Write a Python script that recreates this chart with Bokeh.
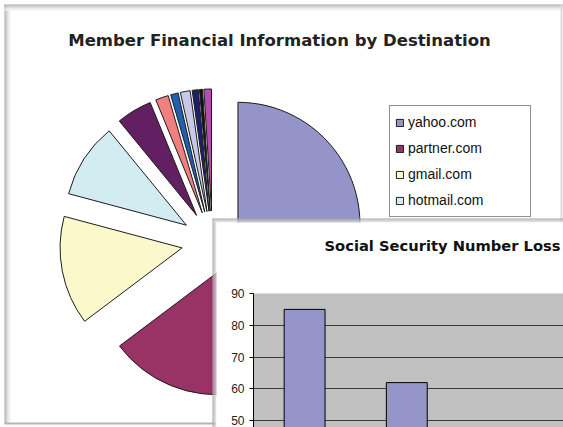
import math
from bokeh.plotting import figure
from bokeh.models import Range1d, Legend, LegendItem, ColumnDataSource, Label, SingleIntervalTicker
from bokeh.embed import file_html
from bokeh.resources import INLINE

# ---------------- data ----------------
pie_title = "Member Financial Information by Destination"
pie_domains = ["yahoo.com", "partner.com", "gmail.com", "hotmail.com",
               "(hidden 5)", "(hidden 6)", "(hidden 7)", "(hidden 8)",
               "(hidden 9)", "(hidden 10)", "(hidden 11)"]
pie_shares = [30.6, 34.0, 14.4, 9.9, 4.7, 1.7, 1.0, 1.3, 0.8, 0.4, 1.0]
pie_colors = ["#9494C8", "#993366", "#FBF9CC", "#D2ECF2", "#621F62", "#F08080",
              "#2060B0", "#C8C8E8", "#1E1E70", "#111111", "#B050A8"]
legend_visible = 4

bar_title = "Social Security Number Loss"
ssn_values = [85, 62]
y_ticks_step = 10
y_max = 90

# ---------------- layout constants ----------------
W, H = 563, 427
CX, CY_S = 212.0, 241.5          # pie centre (screen px from top-left)
R, EXPLODE = 122.0, 31.0
BAR_X0, BAR_Y0 = 216, 222        # top-left of bar-chart window canvas
BW, BH = W - BAR_X0, H - BAR_Y0


def sy(y):  # screen y (from top) -> data y of pie figure
    return H - y


p = figure(width=W, height=H, x_range=Range1d(0, W), y_range=Range1d(0, H),
           output_backend="svg", toolbar_location=None, min_border=0,
           x_axis_location=None, y_axis_location=None, outline_line_color=None,
           background_fill_color="white", border_fill_color="white")
p.grid.visible = False
p.styles = {"position": "absolute", "left": "0px", "top": "0px"}

# window frames (gradient bands)
shades = ["#a6a6a6", "#b8b8b8", "#cacaca", "#dadada", "#e8e8e8", "#f4f4f4"]
fl, fr, ft, fb, fc = [], [], [], [], []
for i, c in enumerate(shades):
    fl.append(4); fr.append(W); ft.append(sy(4 + i)); fb.append(sy(5 + i)); fc.append(c)
    fl.append(4 + i); fr.append(5 + i); ft.append(sy(4 + i)); fb.append(sy(423)); fc.append(c)
fl += [560, 4]; fr += [562, BAR_X0]; ft += [sy(4), sy(422)]; fb += [sy(423), sy(424)]
fc += ["#dcdcdc", "#b4b4b4"]
p.quad(left=fl, right=fr, top=ft, bottom=fb, fill_color=fc, line_color=None)

# title
p.add_layout(Label(x=279, y=sy(40), text=pie_title, text_align="center",
                   text_baseline="middle", text_font="DejaVu Sans",
                   text_font_style="bold", text_font_size="16.5px",
                   text_color="#222222"))

# pie wedges
total = sum(pie_shares)
xs, ys, st, en = [], [], [], []
acc = 0.0
for v in pie_shares:
    b0 = acc / total * 2 * math.pi
    acc += v
    b1 = acc / total * 2 * math.pi
    mid = (b0 + b1) / 2
    xs.append(CX + EXPLODE * math.sin(mid))
    ys.append(sy(CY_S) + EXPLODE * math.cos(mid))
    st.append(math.pi / 2 - b1)
    en.append(math.pi / 2 - b0)
src = ColumnDataSource(dict(x=xs, y=ys, start=st, end=en, color=pie_colors, name=pie_domains))
wr = p.wedge(x="x", y="y", radius=R, start_angle="start", end_angle="end",
             fill_color="color", line_color="#1c1c1c", line_width=1, source=src)

legend = Legend(items=[LegendItem(label=pie_domains[i], renderers=[wr], index=i)
                       for i in range(legend_visible)],
                location=(389, 210), margin=0, padding=5, spacing=4,
                label_height=22, glyph_width=9, glyph_height=9, label_standoff=4,
                label_width=117, label_text_font="Liberation Sans",
                label_text_font_size="14px", label_text_color="#111111",
                border_line_color="#222222", border_line_width=1,
                background_fill_color="white", background_fill_alpha=1)
p.add_layout(legend)

# frame bands of the overlapping bar-chart window (drawn on the pie canvas)
bl, br, bt, bb, bc = [], [], [], [], []
for i, c in enumerate(shades[:4]):
    bl.append(BAR_X0 - 4); br.append(W); bt.append(sy(BAR_Y0 - 4 + i)); bb.append(sy(BAR_Y0 - 3 + i)); bc.append(c)
    bl.append(BAR_X0 - 4 + i); br.append(BAR_X0 - 3 + i); bt.append(sy(BAR_Y0 - 4 + i)); bb.append(0); bc.append(c)
bl.append(BAR_X0); br.append(W); bt.append(sy(BAR_Y0)); bb.append(0); bc.append("white")
p.quad(left=bl, right=br, top=bt, bottom=bb, fill_color=bc, line_color=None)

# ---------------- bar chart ----------------
cat_px = 102.2
frame_left, frame_top = 37, 71
frame_w = BW - frame_left
frame_h = BH - frame_top
px_per_unit = 3.1825
bar = figure(width=BW, height=BH,
             x_range=Range1d(0, frame_w / cat_px),
             y_range=Range1d(y_max - frame_h / px_per_unit, y_max),
             output_backend="svg", toolbar_location=None,
             min_border_left=frame_left, min_border_top=frame_top,
             min_border_right=0, min_border_bottom=0,
             x_axis_location=None, outline_line_color=None,
             background_fill_color="#C0C0C0", border_fill_color="white",
             title=bar_title + "\n")
bar.styles = {"position": "absolute", "left": f"{BAR_X0}px", "top": f"{BAR_Y0}px"}
bar.title.align = "left"
bar.title.offset = 324 - (BAR_X0 + frame_left)
bar.title.standoff = 23
bar.title.text_line_height = 1.62
bar.title.text_font = "DejaVu Sans"
bar.title.text_font_style = "bold"
bar.title.text_font_size = "14.7px"
bar.title.text_color = "#111111"
bar.xgrid.visible = False
bar.ygrid.grid_line_color = "#3a3a3a"
bar.ygrid.grid_line_width = 1
bar.yaxis.ticker = SingleIntervalTicker(interval=y_ticks_step)
bar.yaxis.axis_line_color = "black"
bar.yaxis.major_tick_line_color = "black"
bar.yaxis.major_tick_out = 4
bar.yaxis.major_tick_in = 0
bar.yaxis.minor_tick_line_color = None
bar.yaxis.major_label_standoff = 5
bar.yaxis.major_label_text_font = "Liberation Sans"
bar.yaxis.major_label_text_font_size = "12px"
bar.yaxis.major_label_text_color = "#222222"

bar.vbar(x=[i + 0.5 for i in range(len(ssn_values))], top=ssn_values, bottom=0,
         width=0.4, fill_color="#9595C9", line_color="black", line_width=1)

open("out.html", "w").write(file_html([p, bar], INLINE))
